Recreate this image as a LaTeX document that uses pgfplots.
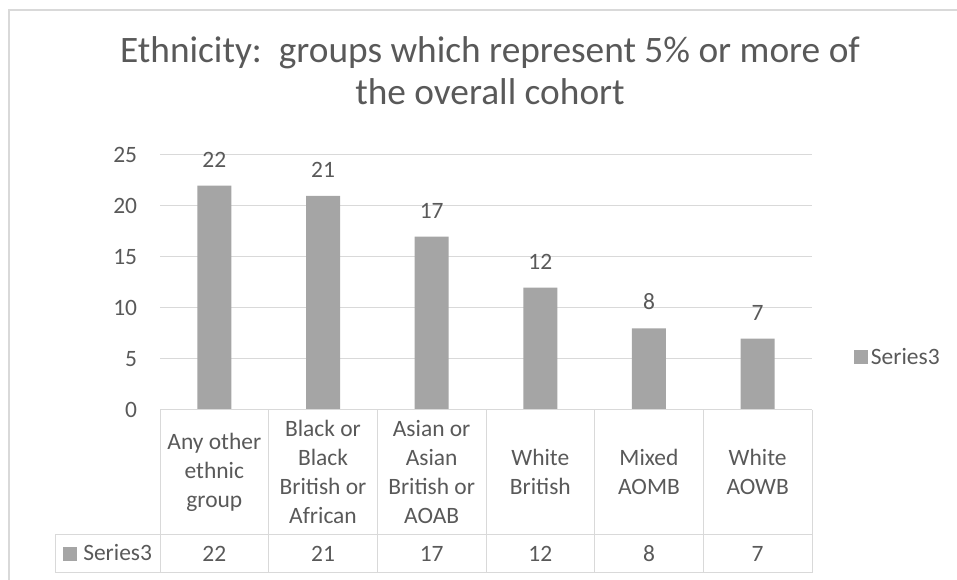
\documentclass[border=0pt]{standalone}
\usepackage{pgfplots}
\pgfplotsset{compat=1.18}
\usepackage{fontspec}
\setmainfont{Carlito}
\definecolor{barc}{HTML}{A5A5A5}
\definecolor{txtc}{HTML}{595959}
\definecolor{gridc}{HTML}{D9D9D9}
\newcommand{\bodyfont}{\fontsize{17.6}{21.75}\selectfont}
\begin{document}
\begin{tikzpicture}
\path[use as bounding box] (0,0) rectangle (717.75pt,435pt);
\draw[gridc, line width=1.1pt] (6.75pt,-5pt) -- (6.75pt,427.5pt) -- (730pt,427.5pt);
\node[text=txtc, align=center, font={\fontsize{28}{31.5}\selectfont}] at (367.5pt,381.75pt)
  {Ethnicity:\ \ groups which represent 5\% or more of\\the overall cohort};
\begin{axis}[
  at={(120pt,127.5pt)}, anchor=south west,
  scale only axis, width=489pt, height=191.25pt,
  xmin=-0.5, xmax=5.5, ymin=0, ymax=25,
  ytick={0,5,10,15,20,25},
  xtick={0,1,2,3,4,5},
  xticklabels={{Any other\\ethnic\\group}, {Black or\\Black\\British or\\African}, {Asian or\\Asian\\British or\\AOAB}, {White\\British}, {Mixed\\AOMB}, {White\\AOWB}},
  axis line style={draw=none},
  major tick length=0pt,
  ymajorgrids, grid style={gridc, line width=0.75pt},
  clip=false,
  /pgf/number format/assume math mode=true,
  tick label style={font=\bodyfont, text=txtc},
  yticklabel style={anchor=east, inner sep=0pt, xshift=-17pt},
  xticklabel style={anchor=center, align=center, inner sep=0pt, yshift=-46.5pt},
  legend style={at={(1.0644,0.208)}, anchor=west, draw=none, fill=none, font=\bodyfont, text=txtc, inner sep=0pt, legend cell align=left},
  legend image code/.code={\fill[#1] (0pt,-5.25pt) rectangle (10.5pt,5.25pt);},
]
\addplot[ybar, bar width=25.5pt, fill=barc, draw=none,
  nodes near coords,
  every node near coord/.append style={font=\bodyfont, text=txtc, inner sep=0pt, yshift=13.5pt}]
  coordinates {(0,22) (1,21) (2,17) (3,12) (4,8) (5,7)};
\addlegendentry{Series3}
\addplot[draw=none, forget plot, nodes near coords, point meta=explicit,
  every node near coord/.style={font=\bodyfont, text=txtc, anchor=center, inner sep=0pt, yshift=-108pt}]
  table[meta=v] {
x y v
0 0 22
1 0 21
2 0 17
3 0 12
4 0 8
5 0 7
};
\end{axis}
\begin{scope}[gridc, line width=0.75pt]
\foreach \i in {0,...,6} {
  \draw ({120pt+81.5pt*\i},127.5pt) -- ({120pt+81.5pt*\i},5.25pt);
}
\draw (120pt,127.5pt) -- (609pt,127.5pt);
\draw (41.25pt,33.75pt) -- (609pt,33.75pt);
\draw (41.25pt,5.25pt) -- (609pt,5.25pt);
\draw (41.25pt,33.75pt) -- (41.25pt,5.25pt);
\end{scope}
\node[anchor=west, inner sep=0pt, font=\bodyfont, text=txtc] at (47.25pt,20.25pt)
  {\textcolor{barc}{\rule[-0.5pt]{10.5pt}{10.5pt}}\hspace{4.5pt}Series3};
\end{tikzpicture}
\end{document}
